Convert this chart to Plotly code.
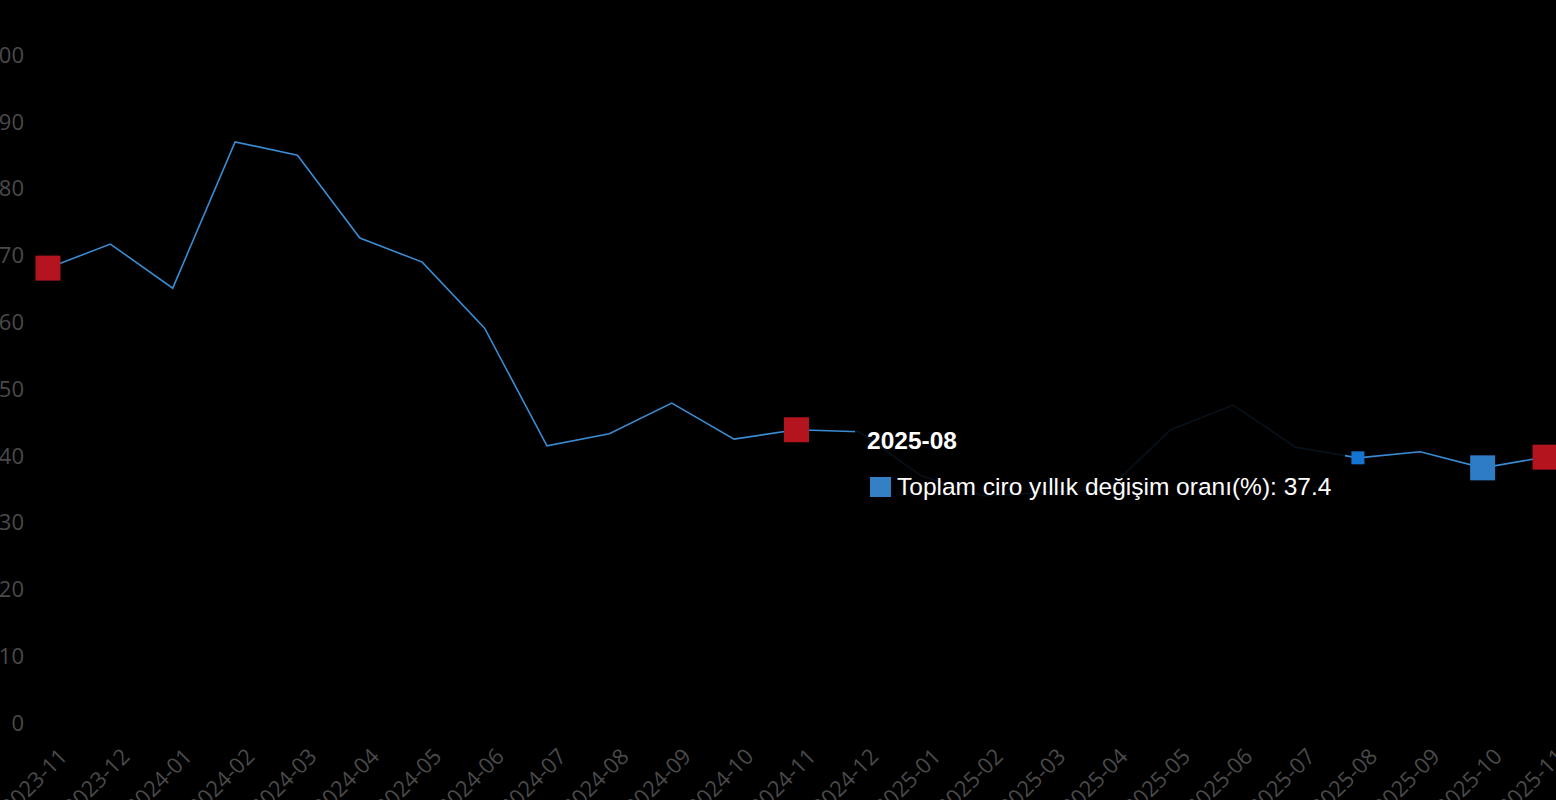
import plotly.graph_objects as go

months = ["2023-11", "2023-12", "2024-01", "2024-02", "2024-03", "2024-04", "2024-05",
          "2024-06", "2024-07", "2024-08", "2024-09", "2024-10", "2024-11", "2024-12",
          "2025-01", "2025-02", "2025-03", "2025-04", "2025-05", "2025-06", "2025-07",
          "2025-08", "2025-09", "2025-10", "2025-11"]
values = [68.1, 71.7, 65.1, 87.0, 85.0, 72.6, 69.0,
          59.1, 41.5, 43.3, 47.9, 42.5, 43.9, 43.6,
          37.0, 34.0, 34.5, 35.0, 43.9, 47.6, 41.3,
          39.7, 40.6, 38.2, 39.8]
red_months = ["2023-11", "2024-11", "2025-11"]
blue_big_months = ["2025-10"]
blue_small_months = ["2025-08"]
y_ticks = [0, 10, 20, 30, 40, 50, 60, 70, 80, 90, 100]
tooltip_title = "2025-08"
tooltip_label = "Toplam ciro yıllık değişim oranı(%): 37.4"

LINE = "#3a8cd2"
RED = "#b3141e"
BLUE = "#2e7cc4"
BLUE_SMALL = "#1474d2"
TICK = "#4a4a4a"

fig = go.Figure()
fig.add_trace(go.Scatter(x=months, y=values, mode="lines",
                         line=dict(color=LINE, width=1.6), hoverinfo="skip",
                         showlegend=False))

def sub(ms):
    return [m for m in months if m in ms], [v for m, v in zip(months, values) if m in ms]

for ms, col, size in [(red_months, RED, 25), (blue_big_months, BLUE, 25),
                      (blue_small_months, BLUE_SMALL, 13)]:
    xs, ys = sub(ms)
    fig.add_trace(go.Scatter(x=xs, y=ys, mode="markers",
                             marker=dict(symbol="square", size=size, color=col,
                                         line=dict(width=0)),
                             hoverinfo="skip", showlegend=False))

# plot area: x 30..1556, y 40..740
def px(xp):
    return (xp - 30) / 1526.0

def py(yp):
    return (740 - yp) / 700.0

# tooltip overlay
fig.add_shape(type="rect", xref="paper", yref="paper",
              x0=px(855), x1=px(1345), y0=py(512), y1=py(398),
              fillcolor="rgba(0,0,0,0.88)", line=dict(width=0), layer="above")
fig.add_shape(type="rect", xref="paper", yref="paper",
              x0=px(870), x1=px(891), y0=py(497), y1=py(477),
              fillcolor="#3480c4", line=dict(width=0), layer="above")
fig.add_annotation(xref="paper", yref="paper", x=px(865), y=py(440),
                   xanchor="left", yanchor="middle", showarrow=False,
                   text="<b>" + tooltip_title + "</b>",
                   font=dict(family="Liberation Sans, Arial", size=24.5, color="white"))
fig.add_annotation(xref="paper", yref="paper", x=px(895), y=py(486),
                   xanchor="left", yanchor="middle", showarrow=False,
                   text=tooltip_label,
                   font=dict(family="Liberation Sans, Arial", size=24.5, color="white"))

fig.update_layout(
    width=1556, height=800,
    paper_bgcolor="black", plot_bgcolor="black",
    margin=dict(l=30, r=0, t=40, b=60),
    showlegend=False,
    xaxis=dict(type="category", range=[-0.288, 24.176], tickangle=-45,
               showgrid=False, zeroline=False, showline=False, ticks="",
               tickfont=dict(family="Open Sans", size=22, color=TICK),
               ticklabelshift=13, ticklabelstandoff=-2,
               automargin=False),
    yaxis=dict(range=[-2.545, 102.25], tickvals=y_ticks,
               showgrid=False, zeroline=False, showline=False, ticks="",
               tickfont=dict(family="Open Sans", size=22, color=TICK),
               ticklabelstandoff=5,
               automargin=False),
)

fig.write_html("out.html", config={"displayModeBar": False},
               post_script="document.body.style.margin='0';document.body.style.background='black';")
